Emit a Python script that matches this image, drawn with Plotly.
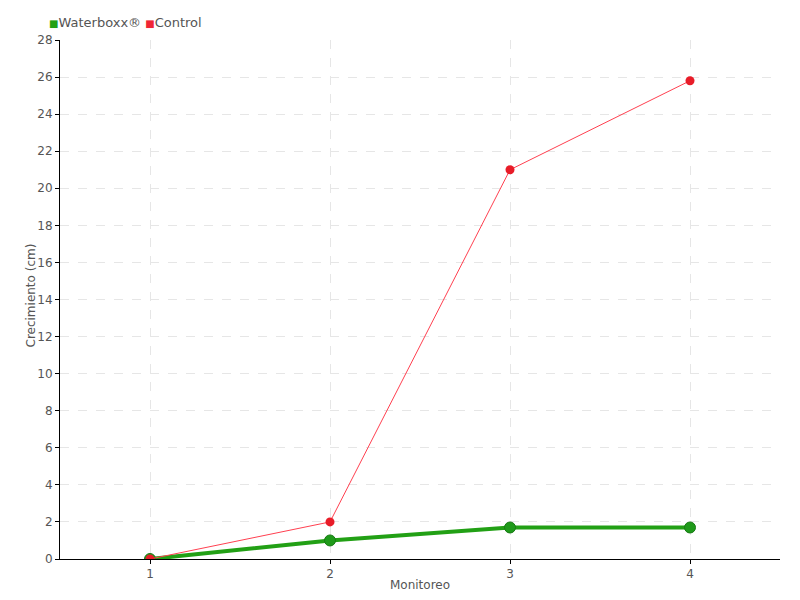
import plotly.graph_objects as go

monitoreo = [1, 2, 3, 4]
waterboxx = [0, 1, 1.7, 1.7]
control = [0, 2, 21, 25.8]
y_ticks = list(range(0, 29, 2))

FONT = "DejaVu Sans"
GREEN = "#22a015"
RED = "#f02535"
TXT = "#555555"

fig = go.Figure()
fig.add_trace(go.Scatter(
    x=monitoreo, y=waterboxx, mode="lines+markers", name="Waterboxx®",
    line=dict(color=GREEN, width=4),
    marker=dict(color="#1f9a1a", size=11, line=dict(color="#187a14", width=1)),
    showlegend=False))
fig.add_trace(go.Scatter(
    x=monitoreo, y=control, mode="lines+markers", name="Control",
    line=dict(color="#ff4050", width=1),
    marker=dict(color="#e81c28", size=9),
    showlegend=False))

fig.add_annotation(
    xref="paper", yref="paper", x=0, y=1.0, xshift=-13, yshift=18,
    xanchor="left", yanchor="middle", showarrow=False,
    text=(f"<span style='color:{GREEN};font-size:10px'>■</span>Waterboxx® "
          f"<span style='color:{RED};font-size:10px'>■</span>Control"),
    font=dict(family=FONT, size=13, color=TXT))

fig.add_annotation(
    xref="paper", yref="paper", x=0, y=0.5, xshift=-30, yshift=4,
    xanchor="center", yanchor="middle", showarrow=False, textangle=-90,
    text="Crecimiento (cm)",
    font=dict(family=FONT, size=12, color=TXT))

fig.update_layout(
    width=792, height=592,
    margin=dict(l=52, r=20, t=32, b=41, autoexpand=False),
    paper_bgcolor="white", plot_bgcolor="white",
    showlegend=False,
    font=dict(family=FONT, size=13, color=TXT),
    xaxis=dict(range=[0.5, 4.5], tickvals=monitoreo, ticktext=[str(v) for v in monitoreo],
               showgrid=True, gridcolor="#e6e6e6", griddash="dash",
               showline=True, linecolor="black", linewidth=1,
               ticks="outside", ticklen=4, tickcolor="black",
               tickfont=dict(size=12),
               zeroline=False, automargin=False,
               title=dict(text="Monitoreo", standoff=0, font=dict(size=12, color=TXT))),
    yaxis=dict(range=[0, 28], tickvals=y_ticks,
               showgrid=True, gridcolor="#e6e6e6", griddash="dash",
               showline=True, linecolor="black", linewidth=1,
               ticks="outside", ticklen=4, tickcolor="black",
               tickfont=dict(size=12),
               zeroline=False, automargin=False),
)

fig.write_html("out.html")
